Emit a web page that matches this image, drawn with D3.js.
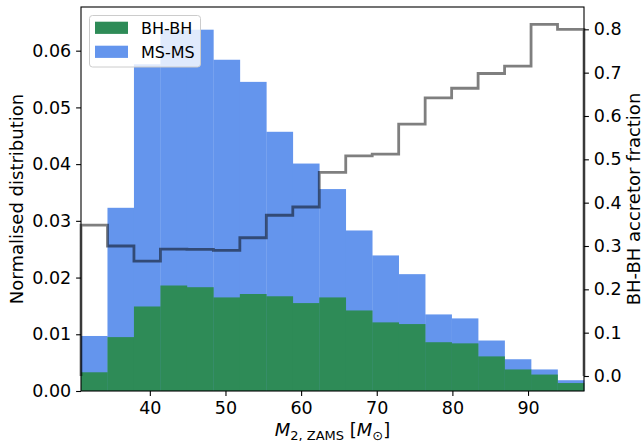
<!DOCTYPE html>
<html>
<head>
<meta charset="utf-8">
<script src="https://cdn.jsdelivr.net/npm/d3@7"></script>
<style>
  body { margin: 0; background: #fff; }
  svg { display: block; }
  text { font-family: "DejaVu Sans", sans-serif; fill: #000; }
</style>
</head>
<body>
<svg id="chart" width="643" height="445"></svg>
<script>
// ---- data ----
const binEdges = [30.9, 34.4, 37.9, 41.4, 44.9, 48.4, 51.9, 55.4, 58.9, 62.4, 65.9,
                  69.4, 72.9, 76.4, 79.9, 83.4, 86.9, 90.4, 93.9, 97.4];
const msms = [0.0097, 0.0323, 0.0576, 0.0636, 0.0637, 0.0584, 0.0545, 0.0457, 0.0401, 0.0356,
              0.0283, 0.0239, 0.0206, 0.0135, 0.0128, 0.0089, 0.0056, 0.0038, 0.0019];
const bhbh = [0.0033, 0.0095, 0.0149, 0.0186, 0.0183, 0.0165, 0.0171, 0.0167, 0.0155, 0.0165,
              0.0142, 0.0121, 0.0118, 0.0086, 0.0084, 0.0061, 0.0038, 0.0029, 0.0014];
const fraction = [0.348, 0.300, 0.265, 0.293, 0.292, 0.290, 0.319, 0.371, 0.390, 0.470,
                  0.508, 0.512, 0.581, 0.642, 0.664, 0.698, 0.715, 0.8115, 0.800];
const xTicks = [40, 50, 60, 70, 80, 90];
const yLeftTicks = [0, 0.01, 0.02, 0.03, 0.04, 0.05, 0.06];
const yRightTicks = [0, 0.1, 0.2, 0.3, 0.4, 0.5, 0.6, 0.7, 0.8];
const seriesNames = ["BH-BH", "MS-MS"];
const seriesColors = ["#2e8b57", "#6495ed"];

// ---- layout ----
const L = 81, R = 584, T = 7, B = 391;
const svg = d3.select("#chart");
const x = d3.scaleLinear().domain([30.9, 97.4]).range([L, R]);
const yL = d3.scaleLinear().domain([0, 0.0677]).range([B, T]);
const yR = d3.scaleLinear().domain([-0.0346, 0.8515]).range([B, T]);
const fs = 17.5;

const bins = msms.map((v, i) => ({ x0: binEdges[i], x1: binEdges[i + 1], ms: v, bh: bhbh[i], f: fraction[i] }));

const plot = svg.append("g");
// MS-MS bars
plot.selectAll("rect.ms").data(bins).join("rect")
  .attr("x", d => x(d.x0)).attr("width", d => x(d.x1) - x(d.x0) + 0.3)
  .attr("y", d => yL(d.ms)).attr("height", d => yL(0) - yL(d.ms))
  .attr("fill", seriesColors[1]);
// BH-BH bars
plot.selectAll("rect.bh").data(bins).join("rect")
  .attr("x", d => x(d.x0)).attr("width", d => x(d.x1) - x(d.x0) + 0.3)
  .attr("y", d => yL(d.bh)).attr("height", d => yL(0) - yL(d.bh))
  .attr("fill", seriesColors[0]);

// legend (belongs to left axes)
const lg = svg.append("g");
lg.append("rect").attr("x", 89.5).attr("y", 15.5).attr("width", 111).attr("height", 51.5)
  .attr("rx", 3).attr("fill", "#fff").attr("fill-opacity", 0.8)
  .attr("stroke", "#cccccc").attr("stroke-width", 1);
seriesNames.forEach((n, i) => {
  const yy = 21.7 + i * 24;
  lg.append("rect").attr("x", 95).attr("y", yy).attr("width", 33).attr("height", 12.2)
    .attr("fill", seriesColors[i]);
  lg.append("text").attr("x", 141).attr("y", yy + 12.3).attr("font-size", 16).text(n);
});

// fraction step line (right axis)
const pts = [[x(binEdges[0]), yR(0)]];
bins.forEach(d => { pts.push([x(d.x0), yR(d.f)]); pts.push([x(d.x1), yR(d.f)]); });
pts.push([x(binEdges[binEdges.length - 1]), yR(0)]);
svg.append("path").attr("d", d3.line()(pts))
  .attr("fill", "none").attr("stroke", "#000").attr("stroke-opacity", 0.5)
  .attr("stroke-width", 2.8).attr("stroke-linejoin", "miter");

// axes
const tickLen = 4.9, pad = 4.9;
const ax = svg.append("g").attr("transform", `translate(0,${B})`)
  .call(d3.axisBottom(x).tickValues(xTicks).tickSize(tickLen).tickPadding(pad).tickFormat(d3.format("d")));
const ayl = svg.append("g").attr("transform", `translate(${L},0)`)
  .call(d3.axisLeft(yL).tickValues(yLeftTicks).tickSize(tickLen).tickPadding(pad).tickFormat(d3.format(".2f")));
const ayr = svg.append("g").attr("transform", `translate(${R},0)`)
  .call(d3.axisRight(yR).tickValues(yRightTicks).tickSize(tickLen).tickPadding(pad).tickFormat(d3.format(".1f")));
[ax, ayl, ayr].forEach(g => {
  g.select(".domain").remove();
  g.selectAll(".tick line").attr("stroke", "#000").attr("stroke-width", 1.1);
  g.selectAll(".tick text").attr("font-size", fs).attr("font-family", "DejaVu Sans").attr("fill", "#000");
});
ax.selectAll(".tick text").attr("dy", null).attr("y", tickLen + pad).attr("dominant-baseline", "hanging");

// frame
svg.append("rect").attr("x", L).attr("y", T).attr("width", R - L).attr("height", B - T)
  .attr("fill", "none").attr("stroke", "#000").attr("stroke-width", 1.1);

// axis labels
svg.append("text").attr("transform", `translate(23,${(T + B) / 2}) rotate(-90)`)
  .attr("text-anchor", "middle").attr("font-size", 18).text("Normalised distribution");
svg.append("text").attr("transform", `translate(640,${(T + B) / 2}) rotate(-90)`)
  .attr("text-anchor", "middle").attr("font-size", 18).text("BH-BH accretor fraction");

const xl = svg.append("text").attr("x", (L + R) / 2).attr("y", 436).attr("text-anchor", "middle").attr("font-size", 18);
xl.append("tspan").attr("font-style", "italic").text("M");
xl.append("tspan").attr("font-size", 13).attr("dy", 4).text("2, ZAMS");
xl.append("tspan").attr("dy", -4).text(" [");
xl.append("tspan").attr("font-style", "italic").text("M");
xl.append("tspan").attr("font-size", 13).attr("dy", 4).text("⊙");
xl.append("tspan").attr("dy", -4).text("]");
</script>
</body>
</html>
